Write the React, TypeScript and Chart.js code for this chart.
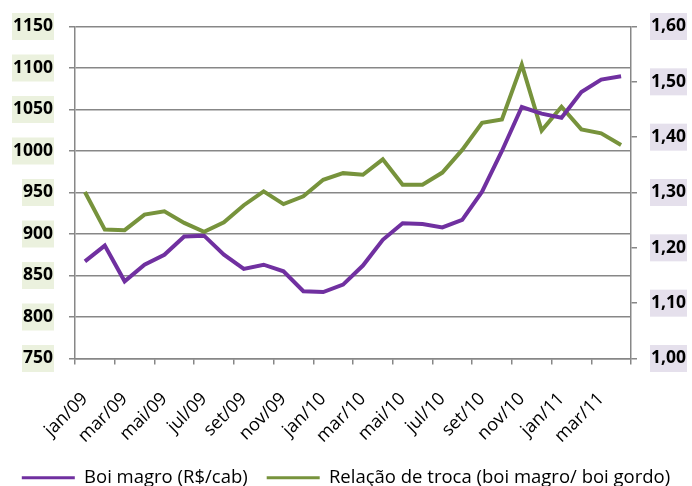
import React, { useEffect, useRef } from "react";
import { Chart, registerables } from "chart.js";

Chart.register(...registerables);

const months = [
  "jan/09", "fev/09", "mar/09", "abr/09", "mai/09", "jun/09", "jul/09", "ago/09", "set/09", "out/09", "nov/09", "dez/09",
  "jan/10", "fev/10", "mar/10", "abr/10", "mai/10", "jun/10", "jul/10", "ago/10", "set/10", "out/10", "nov/10", "dez/10",
  "jan/11", "fev/11", "mar/11", "abr/11",
];

const boiMagro = [
  867, 886, 843, 863, 875, 897, 898, 875, 858, 863, 855, 831,
  830, 839, 862, 893, 913, 912, 908, 917, 951, 1000, 1053, 1045,
  1040, 1071, 1086, 1090,
];

const relacaoTroca = [
  1.301, 1.233, 1.232, 1.26, 1.266, 1.245, 1.229, 1.246, 1.277, 1.302, 1.279, 1.293,
  1.323, 1.335, 1.332, 1.36, 1.314, 1.314, 1.336, 1.377, 1.426, 1.432, 1.531, 1.412,
  1.455, 1.414, 1.407, 1.386,
];

const leftMin = 750;
const leftMax = 1150;
const rightMin = 1.0;
const rightMax = 1.6;

const PURPLE = "#7030A0";
const GREEN = "#77933C";
const GRID = "#878787";
const FONT = "'Open Sans', sans-serif";

export default function App() {
  const canvasRef = useRef<HTMLCanvasElement | null>(null);

  useEffect(() => {
    const canvas = canvasRef.current;
    if (!canvas) return;
    const chart = new Chart(canvas, {
      type: "line",
      data: {
        labels: months,
        datasets: [
          {
            label: "Boi magro (R$/cab)",
            data: boiMagro,
            borderColor: PURPLE,
            backgroundColor: PURPLE,
            borderWidth: 4,
            pointRadius: 0,
            tension: 0,
            yAxisID: "y",
          },
          {
            label: "Relação de troca (boi magro/ boi gordo)",
            data: relacaoTroca,
            borderColor: GREEN,
            backgroundColor: GREEN,
            borderWidth: 4,
            pointRadius: 0,
            tension: 0,
            yAxisID: "y1",
          },
        ],
      },
      options: {
        responsive: false,
        animation: false,
        devicePixelRatio: 1,
        layout: { padding: { top: 22, left: 0, right: 0, bottom: -11 } },
        plugins: {
          title: { display: false },
          tooltip: { enabled: false },
          legend: {
            position: "bottom",
            labels: {
              color: "#000",
              font: { family: FONT, size: 18.5 },
              boxWidth: 53,
              boxHeight: 3,
              padding: 19,
              generateLabels: (c: any) =>
                (Chart.defaults.plugins.legend.labels as any)
                  .generateLabels(c)
                  .map((l: any) => ({ ...l, lineWidth: 0, fillStyle: l.strokeStyle })),
            },
          },
        },
        scales: {
          x: {
            offset: true,
            afterFit: (s: any) => {
              s.height = 91;
            },
            border: { display: true, color: GRID, width: 1.5 },
            grid: {
              offset: true,
              drawOnChartArea: false,
              drawTicks: true,
              tickLength: 6,
              lineWidth: 1.5,
              tickWidth: 1.5,
              tickColor: (ctx: any) =>
                ctx.index === undefined || ctx.index % 2 === 0 ? GRID : "rgba(0,0,0,0)",
            },
            ticks: {
              autoSkip: false,
              maxRotation: 45,
              minRotation: 45,
              padding: 24,
              color: "#000",
              font: { family: FONT, size: 18 },
              callback: (_v: any, i: number) => (i % 2 === 0 ? months[i] : ""),
            },
          },
          y: {
            position: "left",
            min: leftMin,
            max: leftMax,
            afterFit: (s: any) => {
              s.width = 75;
            },
            border: { display: true, color: GRID, width: 1.5 },
            grid: {
              color: GRID,
              lineWidth: 1.5,
              tickLength: 6,
              tickWidth: 1.5,
            },
            ticks: {
              stepSize: 50,
              padding: 16,
              color: "#000",
              font: { family: FONT, size: 17.5, weight: "bold" },
              showLabelBackdrop: true,
              backdropColor: "#EBF1DE",
              backdropPadding: { top: 3, bottom: 3, left: 1, right: 1 },
              callback: (v: any) => String(v),
            },
          },
          y1: {
            position: "right",
            min: rightMin,
            max: rightMax,
            afterFit: (s: any) => {
              s.width = 61;
            },
            border: { display: true, color: GRID, width: 1.5 },
            grid: {
              drawOnChartArea: false,
              color: GRID,
              lineWidth: 1.5,
              tickLength: 6,
              tickWidth: 1.5,
            },
            ticks: {
              stepSize: 0.1,
              padding: 14,
              color: "#000",
              font: { family: FONT, size: 17.5, weight: "bold" },
              showLabelBackdrop: true,
              backdropColor: "#E5E0EC",
              backdropPadding: { top: 3, bottom: 3, left: 1, right: 1 },
              callback: (v: any) => Number(v).toFixed(2).replace(".", ","),
            },
          },
        },
      },
    });
    return () => chart.destroy();
  }, []);

  return (
    <div style={{ position: "fixed", left: 0, top: 0, width: 692, height: 486, background: "#fff" }}>
      <canvas ref={canvasRef} width={692} height={486} style={{ display: "block" }} />
    </div>
  );
}
